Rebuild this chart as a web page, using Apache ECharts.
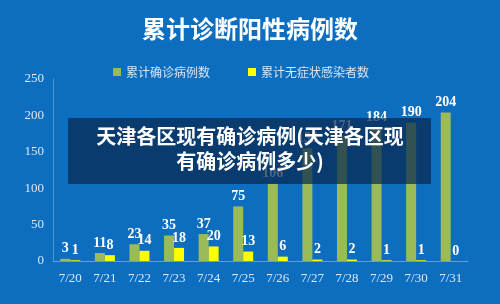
<!DOCTYPE html>
<html>
<head>
<meta charset="utf-8">
<script src="https://cdn.jsdelivr.net/npm/echarts@6/dist/echarts.min.js"></script>
<style>
  html, body { margin: 0; padding: 0; background: #0d6dbf; }
  #main { width: 500px; height: 304px; }
</style>
</head>
<body>
<div id="main"></div>
<script>
let days = ['7/20', '7/21', '7/22', '7/23', '7/24', '7/25', '7/26', '7/27', '7/28', '7/29', '7/30', '7/31']
let confirmed = [3, 11, 23, 35, 37, 75, 106, 155, 171, 184, 190, 204] // 累计确诊病例数
let asymptomatic = [1, 8, 14, 18, 20, 13, 6, 2, 2, 1, 1, 0] // 累计无症状感染者数
let yTicks = [0, 50, 100, 150, 200, 250]

let barLabel = {
  show: true,
  position: 'top',
  color: '#fff',
  fontFamily: 'Liberation Sans Narrow',
  fontWeight: 'bold',
  fontSize: 14,
  distance: 3
}

let options = {
  backgroundColor: '#0d6dbf',
  title: {
    text: '累计诊断阳性病例数',
    left: 137,
    top: 12,
    textStyle: { color: '#fff', fontSize: 24, fontWeight: 'bold', fontFamily: 'Noto Sans CJK SC' }
  },
  legend: {
    left: 108,
    top: 61,
    itemWidth: 8,
    itemHeight: 8,
    itemGap: 38,
    icon: 'rect',
    textStyle: { color: '#d8e6f4', fontSize: 12, fontFamily: 'Noto Sans CJK SC' },
    data: ['累计确诊病例数', '累计无症状感染者数']
  },
  grid: { left: 53, right: 32, top: 79, bottom: 43 },
  xAxis: {
    type: 'category',
    data: days,
    axisLine: { lineStyle: { color: '#5f9fdc' } },
    axisTick: { show: false },
    axisLabel: { color: '#dce8f5', fontFamily: 'Liberation Serif', fontSize: 13, margin: 11 }
  },
  yAxis: {
    type: 'value',
    min: yTicks[0],
    max: yTicks[yTicks.length - 1],
    interval: 50,
    axisLine: { show: true, lineStyle: { color: '#4f93d6' } },
    axisTick: { show: false },
    splitLine: { show: false },
    axisLabel: { color: '#dce8f5', fontFamily: 'Liberation Serif', fontSize: 13, margin: 9 }
  },
  series: [
    {
      name: '累计确诊病例数',
      type: 'bar',
      data: confirmed,
      barWidth: 10,
      barGap: '0%',
      itemStyle: { color: '#9bbb59' },
      label: barLabel
    },
    {
      name: '累计无症状感染者数',
      type: 'bar',
      data: asymptomatic,
      barWidth: 10,
      itemStyle: { color: '#ffff00' },
      label: barLabel
    }
  ],
  graphic: [
    {
      type: 'rect',
      left: 68,
      top: 118,
      z: 100,
      shape: { width: 363, height: 66 },
      style: { fill: 'rgba(8, 40, 80, 0.72)' }
    },
    {
      type: 'text',
      left: 'center',
      top: 124,
      z: 101,
      style: {
        text: '天津各区现有确诊病例(天津各区现\n有确诊病例多少)',
        fill: '#fff',
        fontSize: 20,
        fontWeight: 'bold',
        fontFamily: 'Noto Sans CJK SC',
        lineHeight: 25,
        textAlign: 'center'
      }
    }
  ]
}

let myChart = echarts.init(document.getElementById('main'))
myChart.setOption(options)
</script>
</body>
</html>
